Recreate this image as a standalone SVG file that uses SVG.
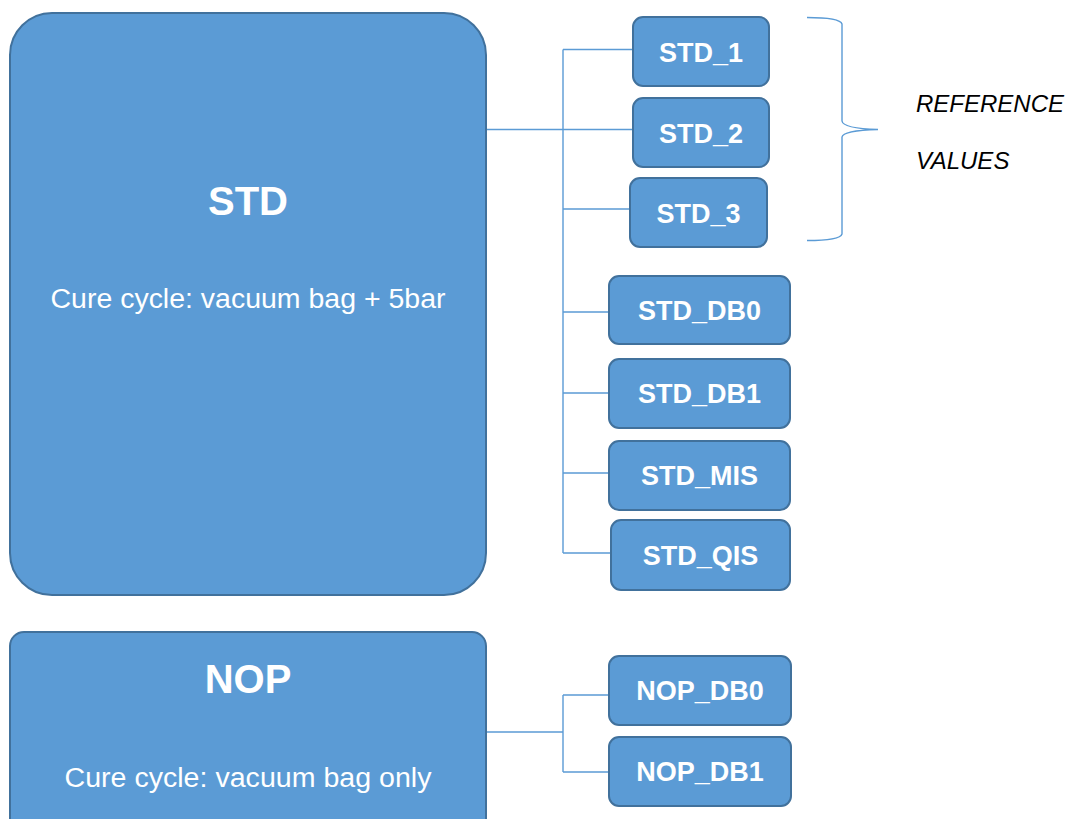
<svg xmlns="http://www.w3.org/2000/svg" width="1072" height="819" viewBox="0 0 1072 819">
  <style>
    .box { fill: #5B9BD5; stroke: #41719C; stroke-width: 2; }
    .lbl { fill: #FFFFFF; font-family: "Liberation Sans", Arial, sans-serif; font-weight: bold; font-size: 27px; text-anchor: middle; }
    .title { fill: #FFFFFF; font-family: "Liberation Sans", Arial, sans-serif; font-weight: bold; font-size: 40px; text-anchor: middle; }
    .sub { fill: #FFFFFF; font-family: "Liberation Sans", Arial, sans-serif; font-size: 27px; text-anchor: middle; }
    .wire { fill: none; stroke: #5B9BD5; stroke-width: 1.4; }
    .note { fill: #000000; font-family: "Liberation Sans", Arial, sans-serif; font-style: italic; font-size: 24px; }
  </style>
  <rect width="1072" height="819" fill="#FFFFFF"/>

  <g id="connectors">
    <path class="wire" d="M487 129.5 H633 M563 49.5 V553 M563 49.5 H633 M563 209 H630 M563 312 H609 M563 393 H609 M563 473 H609 M563 553 H611"/>
    <path class="wire" d="M487 732 H563 M563 695 V772 M563 695 H609 M563 772 H609"/>
  </g>

  <g id="std">
    <rect class="box" x="10" y="13" width="476" height="582" rx="42" ry="42"/>
    <text class="title" x="248" y="215">STD</text>
    <text class="sub" x="248" y="308" textLength="395" lengthAdjust="spacingAndGlyphs">Cure cycle: vacuum bag + 5bar</text>
  </g>

  <g id="nop">
    <rect class="box" x="10" y="632" width="476" height="200" rx="14" ry="14"/>
    <text class="title" x="248" y="693">NOP</text>
    <text class="sub" x="248" y="787" textLength="367" lengthAdjust="spacingAndGlyphs">Cure cycle: vacuum bag only</text>
  </g>

  <g id="std_1">
    <rect class="box" x="633" y="17" width="136" height="69" rx="10" ry="10"/>
    <text class="lbl" x="701" y="62">STD_1</text>
  </g>
  <g id="std_2">
    <rect class="box" x="633" y="98" width="136" height="69" rx="10" ry="10"/>
    <text class="lbl" x="701" y="143">STD_2</text>
  </g>
  <g id="std_3">
    <rect class="box" x="630" y="178" width="137" height="69" rx="10" ry="10"/>
    <text class="lbl" x="698.5" y="223">STD_3</text>
  </g>
  <g id="std_db0">
    <rect class="box" x="609" y="276" width="181" height="68" rx="10" ry="10"/>
    <text class="lbl" x="699.5" y="320">STD_DB0</text>
  </g>
  <g id="std_db1">
    <rect class="box" x="609" y="359" width="181" height="69" rx="10" ry="10"/>
    <text class="lbl" x="699.5" y="403">STD_DB1</text>
  </g>
  <g id="std_mis">
    <rect class="box" x="609" y="441" width="181" height="69" rx="10" ry="10"/>
    <text class="lbl" x="699.5" y="485">STD_MIS</text>
  </g>
  <g id="std_qis">
    <rect class="box" x="611" y="520" width="179" height="70" rx="10" ry="10"/>
    <text class="lbl" x="700.5" y="565">STD_QIS</text>
  </g>
  <g id="nop_db0">
    <rect class="box" x="609" y="656" width="182" height="69" rx="10" ry="10"/>
    <text class="lbl" x="700" y="700">NOP_DB0</text>
  </g>
  <g id="nop_db1">
    <rect class="box" x="609" y="737" width="182" height="69" rx="10" ry="10"/>
    <text class="lbl" x="700" y="781">NOP_DB1</text>
  </g>

  <g id="reference_values">
    <path class="wire" d="M807 17.5 Q840 17.5 842 24 V121 Q843 128.5 878 129.5 Q843 130.5 842 137 V234 Q840 240.5 807 240.5"/>
    <text class="note" x="916" y="112">REFERENCE</text>
    <text class="note" x="916" y="169">VALUES</text>
  </g>
</svg>
